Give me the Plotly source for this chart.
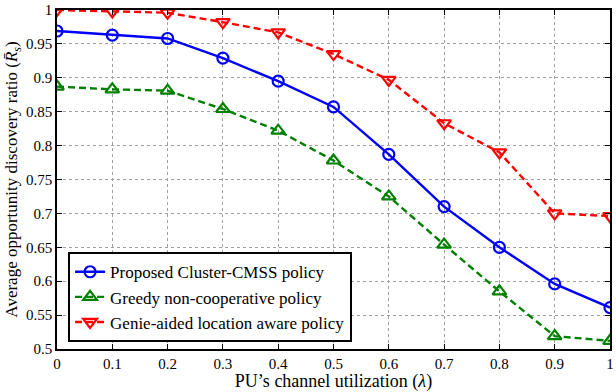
import plotly.graph_objects as go

lam = [0, 0.1, 0.2, 0.3, 0.4, 0.5, 0.6, 0.7, 0.8, 0.9, 1.0]
proposed = [0.969, 0.963, 0.958, 0.929, 0.895, 0.857, 0.787, 0.710, 0.650, 0.596, 0.561]
greedy = [0.887, 0.883, 0.881, 0.854, 0.822, 0.778, 0.725, 0.654, 0.585, 0.519, 0.512]
genie = [1.0, 0.998, 0.996, 0.982, 0.967, 0.935, 0.897, 0.833, 0.790, 0.700, 0.696]

names = ["Proposed Cluster-CMSS policy", "Greedy non-cooperative policy",
         "Genie-aided location aware policy"]

x_tickvals = [0, 0.1, 0.2, 0.3, 0.4, 0.5, 0.6, 0.7, 0.8, 0.9, 1.0]
x_ticktext = ["0", "0.1", "0.2", "0.3", "0.4", "0.5", "0.6", "0.7", "0.8", "0.9", "1"]
y_tickvals = [0.5, 0.55, 0.6, 0.65, 0.7, 0.75, 0.8, 0.85, 0.9, 0.95, 1.0]
y_ticktext = ["0.5", "0.55", "0.6", "0.65", "0.7", "0.75", "0.8", "0.85", "0.9", "0.95", "1"]

FONT = "Liberation Serif, Times New Roman, serif"

fig = go.Figure()
fig.add_trace(go.Scatter(x=lam, y=proposed, name=names[0], mode="lines+markers",
                         line=dict(color="#0000ff", width=2.4),
                         marker=dict(symbol="circle-open", size=11, color="#0000ff",
                                     line=dict(width=2.2, color="#0000ff"))))
fig.add_trace(go.Scatter(x=lam, y=greedy, name=names[1], mode="lines+markers",
                         line=dict(color="#008000", width=2.4, dash="7px,4px"),
                         marker=dict(symbol="triangle-up-open", size=12, color="#008000",
                                     line=dict(width=2.2, color="#008000"))))
fig.add_trace(go.Scatter(x=lam, y=genie, name=names[2], mode="lines+markers",
                         line=dict(color="#ff0000", width=2.4, dash="7px,4px"),
                         marker=dict(symbol="triangle-down-open", size=12, color="#ff0000",
                                     line=dict(width=2.2, color="#ff0000"))))

axis_common = dict(showline=True, linecolor="black", linewidth=1.5, mirror="ticks",
                   ticks="inside", ticklen=5, tickwidth=1, tickcolor="black",
                   showgrid=True, gridcolor="#a0a0a0", griddash="dot", gridwidth=1,
                   zeroline=False, tickfont=dict(family=FONT, size=15, color="black"))

fig.update_layout(
    width=616, height=392,
    margin=dict(l=57, r=2, t=9, b=43),
    paper_bgcolor="white", plot_bgcolor="white",
    font=dict(family=FONT, size=15, color="black"),
    xaxis=dict(range=[0, 1], tickvals=x_tickvals, ticktext=x_ticktext,
               title=dict(text="PU’s channel utilization (<i>λ</i>)",
                          font=dict(family=FONT, size=18), standoff=2),
               **axis_common),
    yaxis=dict(range=[0.5, 1], tickvals=y_tickvals, ticktext=y_ticktext,
               title=dict(text="Average opportunity discovery ratio (<i>R̄</i><sub><i>s</i></sub>)",
                          font=dict(family=FONT, size=17), standoff=4),
               **axis_common),
    legend=dict(x=0.02, y=0.02, xanchor="left", yanchor="bottom",
                bgcolor="white", bordercolor="black", borderwidth=2,
                font=dict(family=FONT, size=17), tracegroupgap=0,
                itemwidth=30),
    showlegend=True,
)

fig.write_html("out.html")
